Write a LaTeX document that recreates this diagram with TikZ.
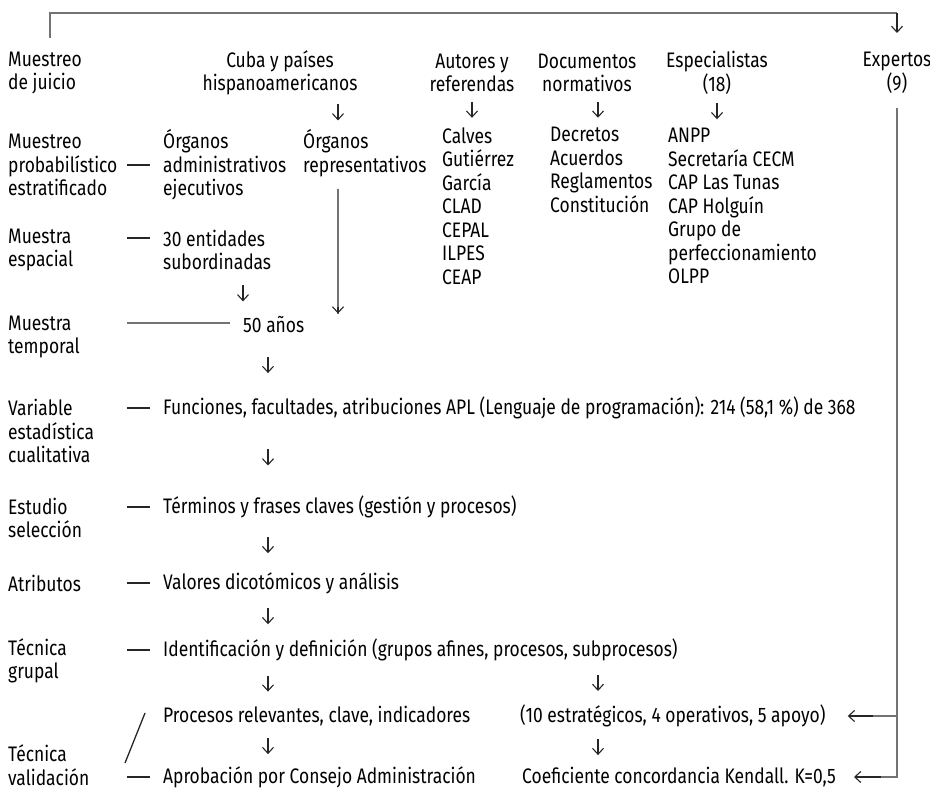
\documentclass[tikz,border=0pt]{standalone}
\usepackage{fontspec}
\setmainfont[FakeStretch=0.83]{Fira Sans}
\usetikzlibrary{arrows.meta,calc}

\tikzset{
  txt/.style={inner sep=0pt, align=left, anchor=west, text=black,
    font=\fontsize{21}{23.5}\selectfont},
  ctxt/.style={txt, align=center, anchor=center},
  arr/.style={-{Straight Barb[length=6pt,width=11pt]}, line width=1.1pt, black!85},
  link/.style={line width=1.6pt, draw=black!55},
  rulebar/.style={line width=1.3pt, draw=black!85}
}

\begin{document}
\begin{tikzpicture}[x=1pt,y=-1pt]

\useasboundingbox (0,0) rectangle (930,791);

% left column
\node[txt] (juicio) at (8,73) {Muestreo\\de juicio};
\node[txt] (prob) at (8,165) {Muestreo\\probabilístico\\estratificado};
\node[txt] (espacial) at (8,250) {Muestra\\espacial};
\node[txt] (temporal) at (8,337) {Muestra\\temporal};
\node[txt] (variable) at (8,431) {Variable\\estadística\\cualitativa};
\node[txt] (estudio) at (8,518) {Estudio\\selección};
\node[txt] (atributos) at (8,583) {Atributos};
\node[txt] (grupal) at (8,661) {Técnica\\grupal};
\node[txt] (validacion) at (8,765) {Técnica\\validación};

% sources
\node[ctxt] (cuba) at (280,73) {Cuba y países\\hispanoamericanos};
\node[ctxt] (autores) at (472,73) {Autores y\\referendas};
\node[ctxt] (docs) at (587,73) {Documentos\\normativos};
\node[ctxt] (espec) at (717,73) {Especialistas\\(18)};
\node[ctxt] (expertos) at (897,73) {Expertos\\(9)};

\node[txt] (organadm) at (163,165) {Órganos\\administrativos\\ejecutivos};
\node[txt] (organrep) at (303,153) {Órganos\\representativos};
\node[txt] (refs) at (442,206) {Calves\\Gutiérrez\\García\\CLAD\\CEPAL\\ILPES\\CEAP};
\node[txt] (normas) at (550,170) {Decretos\\Acuerdos\\Reglamentos\\Constitución};
\node[txt] (especl) at (668,206) {ANPP\\Secretaría CECM\\CAP Las Tunas\\CAP Holguín\\Grupo de\\perfeccionamiento\\OLPP};

% main flow
\node[txt] (entid) at (163,250) {30 entidades\\subordinadas};
\node[txt] (anios) at (243,325) {50 años};
\node[txt] (func) at (163,408) {Funciones, facultades, atribuciones APL (Lenguaje de programación): 214 (58,1~\%) de 368};
\node[txt] (term) at (163,507) {Términos y frases claves (gestión y procesos)};
\node[txt] (valores) at (163,583) {Valores dicotómicos y análisis};
\node[txt] (ident) at (163,650) {Identificación y definición (grupos afines, procesos, subprocesos)};
\node[txt] (procesos) at (163,716) {Procesos relevantes, clave, indicadores};
\node[txt] (clasif) at (520,716) {(10 estratégicos, 4 operativos, 5 apoyo)};
\node[txt] (aprob) at (163,777) {Aprobación por Consejo Administración};
\node[txt] (kendall) at (522,777) {Coeficiente concordancia Kendall. K=0,5};

% columns of the small arrows
\coordinate (xcuba) at (338,0);
\coordinate (xent) at (243,0);
\coordinate (xmain) at (268,0);
\coordinate (xright) at (598,0);

% top bracket
\coordinate (tl) at (50,13);
\coordinate (tr) at (expertos.north |- tl);
\draw[link] ([yshift=14pt]juicio.north -| tl) -- (tl) -- (tr);
\draw[arr] (tr) -- ++(0,20);

% experts feedback
\draw[link] ([yshift=-14pt]expertos.south) |- ([xshift=45pt]kendall.east);
\draw[arr] ([xshift=45pt]kendall.east) -- ([xshift=18pt]kendall.east);
\draw[link] (expertos.south |- clasif.east) -- ([xshift=47pt]clasif.east);
\draw[arr] ([xshift=47pt]clasif.east) -- ([xshift=22pt]clasif.east);

% representativos down to 50 años
\draw[link] ([yshift=-12pt]organrep.south -| xcuba) -- ([yshift=3pt]anios.north -| xcuba);
\draw[arr] ([yshift=10pt]anios.north -| xcuba) -- ([yshift=3pt]anios.north -| xcuba);

% short arrows
\foreach \a/\b/\c in {cuba/organrep/xcuba, autores/refs/autores, docs/normas/xright,
    espec/especl/espec, entid/anios/xent, anios/func/xmain, func/term/xmain,
    term/valores/xmain, valores/ident/xmain, ident/procesos/xmain,
    procesos/aprob/xmain, ident/clasif/xright, clasif/kendall/xright}
  \draw[arr] ($(\a.south -| \c)!.5!(\b.north -| \c)$) +(0,-8) -- +(0,8);

% dashes
\foreach \n in {organadm, func, term, valores, ident, aprob}
  \draw[rulebar] ([xshift=-13pt]\n.west) -- ++(-23,0);
\draw[rulebar] ([xshift=-13pt,yshift=12pt]entid.west) -- ++(-23,0);
\draw[link] ([xshift=-13pt,yshift=2pt]anios.west) -- ++(-103,0);
\draw[rulebar] ([xshift=-18pt,yshift=3pt]procesos.west) -- ([xshift=-38pt,yshift=14pt]aprob.west);

\end{tikzpicture}
\end{document}
